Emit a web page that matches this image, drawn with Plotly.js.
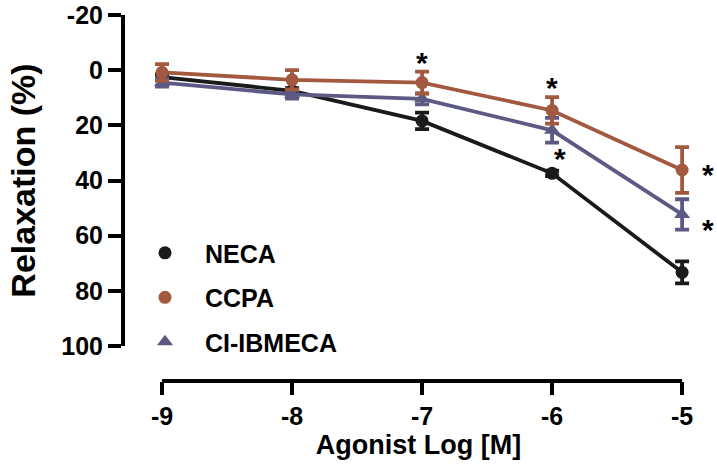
<!DOCTYPE html>
<html>
<head>
<meta charset="utf-8">
<script src="https://cdn.plot.ly/plotly-3.0.1.min.js"></script>
<style>html,body{margin:0;padding:0;background:#fff;}#chart{width:717px;height:471px;}</style>
</head>
<body>
<div id="chart"></div>
<script>
// ---- data ----
const logConc = [-9, -8, -7, -6, -5];
const necaMean = [2.5, 7.5, 18.4, 37.4, 73.3];
const necaSem = [1, 1, 3, 1, 4];
const ccpaMean = [0.8, 3.5, 4.5, 14.6, 36.2];
const ccpaSem = [3, 3.5, 4, 4.8, 8.3];
const ibmecaMean = [4.5, 8.8, 10.4, 21.8, 52.3];
const ibmecaSem = [1.5, 1.5, 2, 4.5, 5.5];
const seriesNames = ["NECA", "CCPA", "CI-IBMECA"];
const yTicks = [-20, 0, 20, 40, 60, 80, 100];
const xTicks = [-9, -8, -7, -6, -5];
// significance markers: x, y, horizontal shift (px)
const starX = [-7, -6, -6, -5, -5];
const starY = [-4.6, 4.4, 30.3, 36, 56];
const starShift = [0, 0, 8, 26, 26];

const cBlack = "#1a1a1a", cBrown = "rgb(162,89,64)", cPurple = "rgb(92,90,132)";
const FONT = "Liberation Sans, Arial, sans-serif";

function lineTrace(name, y, color) {
  return {
    type: "scatter", mode: "lines", name: name, x: logConc, y: y,
    showlegend: false, hoverinfo: "skip",
    line: {color: color, width: 3.8}
  };
}
function markTrace(name, y, err, color, symbol, rank, size) {
  return {
    type: "scatter", mode: "markers", name: name, x: logConc, y: y,
    legendrank: rank, legendgroup: name, cliponaxis: false,
    marker: {color: color, symbol: symbol, size: size},
    error_y: {type: "data", array: err, visible: true, color: color, thickness: 3.8, width: 7}
  };
}

const data = [
  lineTrace(seriesNames[0], necaMean, cBlack),
  markTrace(seriesNames[0], necaMean, necaSem, cBlack, "circle", 1, 13),
  lineTrace(seriesNames[2], ibmecaMean, cPurple),
  markTrace(seriesNames[2], ibmecaMean, ibmecaSem, cPurple, "triangle-up", 3, 14),
  lineTrace(seriesNames[1], ccpaMean, cBrown),
  markTrace(seriesNames[1], ccpaMean, ccpaSem, cBrown, "circle", 2, 13)
];

const annotations = starX.map((x, i) => ({
  x: x, y: starY[i], xref: "x", yref: "y", text: "*", showarrow: false,
  xshift: starShift[i], yshift: -5,
  font: {family: FONT, size: 30, color: "#000", weight: "bold"}
}));

const layout = {
  width: 717, height: 471,
  margin: {l: 125, r: 5, t: 15, b: 90},
  paper_bgcolor: "#fff", plot_bgcolor: "#fff",
  showlegend: true,
  legend: {
    x: 0.0, y: 0.228, xanchor: "left", yanchor: "middle",
    traceorder: "grouped", tracegroupgap: 9, itemwidth: 70,
    font: {family: FONT, size: 25, color: "#000", weight: "bold"},
    bgcolor: "rgba(0,0,0,0)"
  },
  xaxis: {
    range: [-9.285, -4.77], domain: [0, 1], anchor: "free", position: 0,
    tickvals: xTicks, ticktext: xTicks.map(String),
    showline: false,
    ticks: "outside", ticklen: 13, tickwidth: 4, tickcolor: "#000",
    showgrid: false, zeroline: false, ticklabelstandoff: 0,
    tickfont: {family: FONT, size: 25, color: "#000", weight: "bold"},
    title: {text: "Agonist Log [M]", standoff: 4, font: {family: FONT, size: 27, color: "#000", weight: "bold"}}
  },
  yaxis: {
    range: [100, -20], domain: [35/366, 1], anchor: "x",
    tickvals: yTicks, ticktext: yTicks.map(String),
    showline: true, linewidth: 4, linecolor: "#000",
    ticks: "outside", ticklen: 13, tickwidth: 4, tickcolor: "#000",
    showgrid: false, zeroline: false, ticklabelstandoff: 0,
    ticklabeloverflow: "allow",
    tickfont: {family: FONT, size: 25, color: "#000", weight: "bold"},
    title: {text: "Relaxation (%)", standoff: 16, font: {family: FONT, size: 34, color: "#000", weight: "bold"}}
  },
  shapes: [{
    type: "line", xref: "x", yref: "paper",
    x0: xTicks[0], x1: xTicks[xTicks.length - 1], y0: 0, y1: 0,
    line: {color: "#000", width: 4}
  }],
  annotations: annotations
};

Plotly.newPlot("chart", data, layout, {displayModeBar: false, staticPlot: true});
</script>
</body>
</html>
